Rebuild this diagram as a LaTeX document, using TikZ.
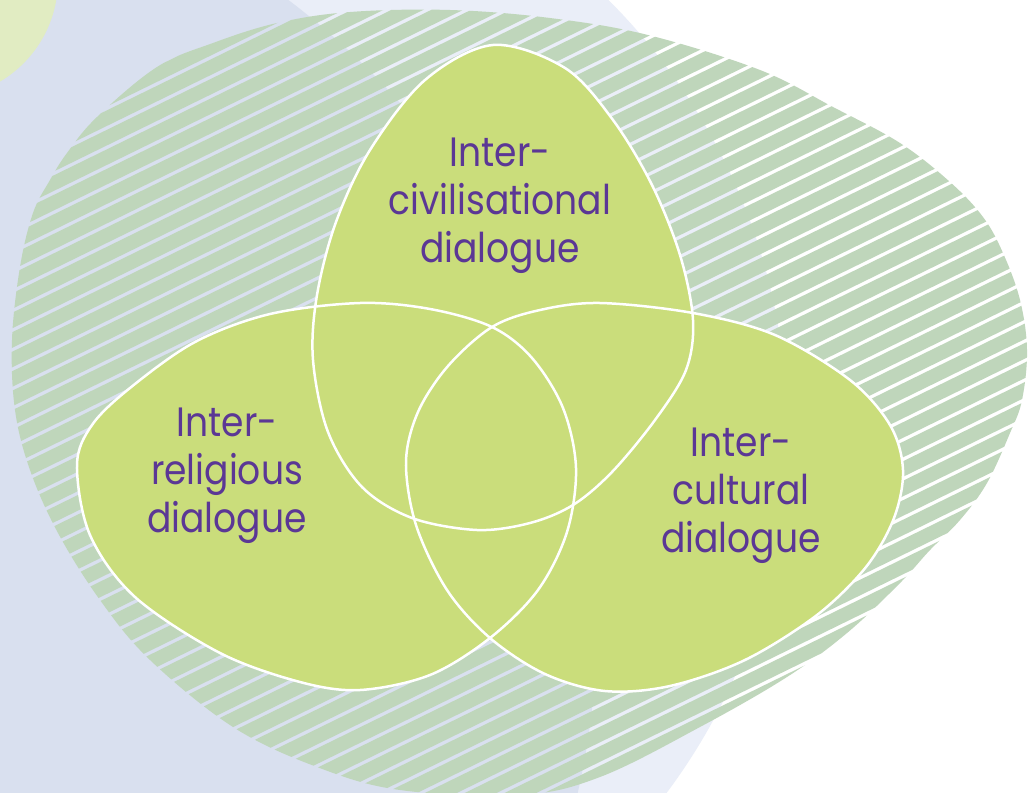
\documentclass[tikz,border=0pt]{standalone}
\usepackage{fontspec}
\setmainfont[FakeStretch=0.88]{Poppins}
\definecolor{midblue}{HTML}{D9E0EF}
\definecolor{lightblue}{HTML}{EAEEF8}
\definecolor{paleyellow}{HTML}{E1ECC2}
\definecolor{hatchgreen}{HTML}{BFD6BB}
\definecolor{vennfill}{HTML}{CADD7B}
\definecolor{textpurple}{HTML}{5B3795}
\tikzset{
  venntext/.style={text=textpurple, align=center, inner sep=0pt, anchor=base,
    font=\fontsize{41}{48}\selectfont},
  vennshape/.style={fill=vennfill},
  vennline/.style={draw=white, line width=2.5pt},
  stripe/.style={draw=hatchgreen, line width=14pt}
}
\begin{document}
\begin{tikzpicture}[x=1pt,y=-1pt]
\useasboundingbox (0,0) rectangle (1035,792);
\fill[white] (0,0) rectangle (1035,792);
\begin{scope}
\clip (0,0) rectangle (1035,792);
\fill[lightblue] (180,430) circle[radius=607];
\fill[midblue] (-180,620) circle[radius=777];
\fill[paleyellow] (-60,-20) circle[radius=118];
% hatched blob
\begin{scope}
\clip plot[smooth cycle, tension=0.6] coordinates {(12,340) (20,267) (33,213) (50,180) (67,153) (97,117) (157,67) (213,43) (277,23) (350,12) (450,10) (550,18) (648,35) (760,70) (833,107) (900,143) (950,182) (983,217) (1003,253) (1020,300) (1027,350) (1022,400) (1010,433) (987,483) (960,520) (930,550) (900,583) (847,633) (787,677) (700,727) (600,777) (520,795) (400,790) (317,767) (233,727) (150,660) (100,600) (58,533) (30,470) (15,410)};
\foreach \c in {0,19.5,...,1420} {
  \draw[stripe] (-50,\c) -- (1100,\c-563.5);
}
\end{scope}
\end{scope}
% Venn shapes
\def\topegg{plot[smooth cycle, tension=0.55] coordinates {(493,45) (565,68) (613,120) (652,185) (680,255) (693,320) (686,370) (655,420) (612,472) (573,505) (530,523) (477,530) (412,518) (362,487) (328,432) (313,360) (317,295) (336,222) (370,150) (425,80)}}
\def\leftegg{plot[smooth cycle, tension=0.55] coordinates {(77,465) (90,535) (135,597) (220,653) (300,682) (360,690) (430,675) (490,638) (538,590) (567,532) (576,468) (563,408) (532,358) (492,327) (430,309) (360,303) (270,314) (195,342) (130,388) (92,425)}}
\def\rightegg{plot[smooth cycle, tension=0.55] coordinates {(406,462) (416,525) (447,590) (490,638) (545,674) (605,691) (670,686) (745,660) (817,615) (866,567) (894,518) (903,470) (890,425) (850,380) (775,335) (693,313) (600,303) (540,310) (492,327) (448,366) (418,412)}}
\fill[vennshape] \topegg;
\fill[vennshape] \leftegg;
\fill[vennshape] \rightegg;
\draw[vennline] \topegg;
\draw[vennline] \leftegg;
\draw[vennline] \rightegg;
% labels
\node[venntext] (civ) at (500,262) {Inter-\\civilisational\\dialogue};
\node[venntext] (rel) at (227,532) {Inter-\\religious\\dialogue};
\node[venntext] (cul) at (741,552) {Inter-\\cultural\\dialogue};
\end{tikzpicture}
\end{document}
